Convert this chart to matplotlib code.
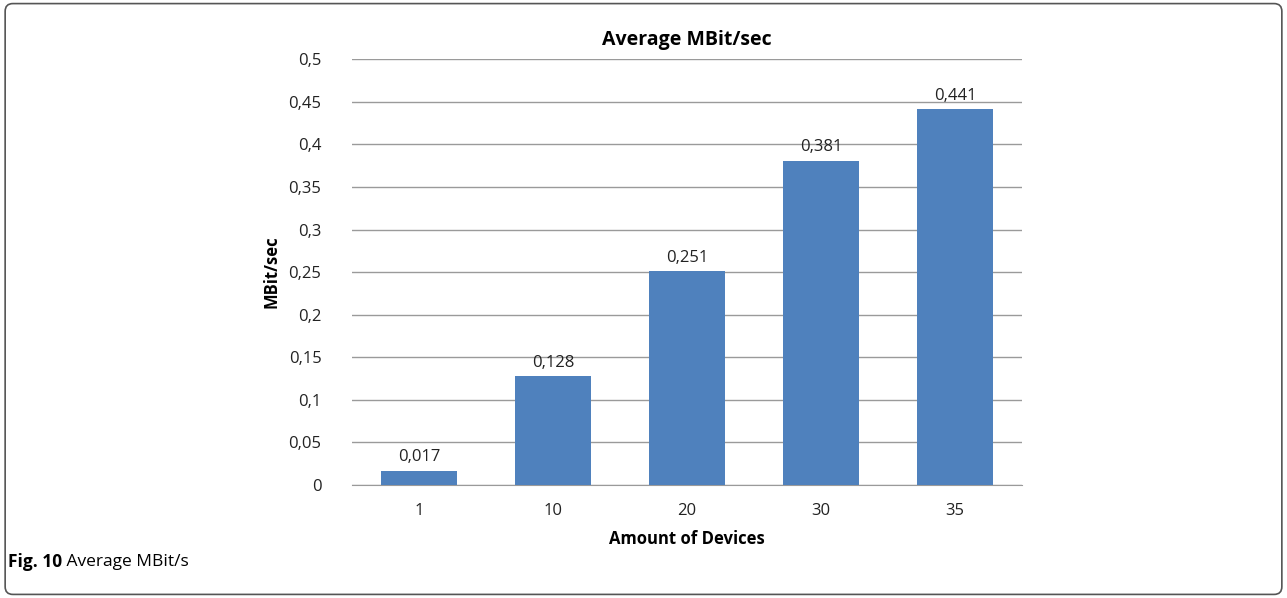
import matplotlib
matplotlib.use('Agg')
import matplotlib.pyplot as plt
from matplotlib.patches import FancyBboxPatch
from matplotlib.ticker import FuncFormatter

devices = ['1', '10', '20', '30', '35']
mbit = [0.017, 0.128, 0.251, 0.381, 0.441]
yticks = [0, 0.05, 0.1, 0.15, 0.2, 0.25, 0.3, 0.35, 0.4, 0.45, 0.5]


def comma(v, pos=None):
    s = f'{v:.3f}'.rstrip('0').rstrip('.')
    return s.replace('.', ',')


def main():
    plt.rcParams['font.family'] = ['Open Sans', 'DejaVu Sans']
    fig = plt.figure(figsize=(12.87, 5.98), dpi=100)

    # outer frame
    frame = FancyBboxPatch((0.004, 0.006), 0.992, 0.988, boxstyle='round,pad=0,rounding_size=0.006',
                           transform=fig.transFigure, fill=False, edgecolor='#555555', linewidth=1.2,
                           mutation_aspect=1287 / 598)
    fig.patches.append(frame)

    ax = fig.add_axes([0.2735, 0.189, 0.5206, 0.712])
    x = list(range(len(devices)))
    bars = ax.bar(x, mbit, width=0.57, color='#4F81BD', zorder=3)
    for b, v in zip(bars, mbit):
        ax.text(b.get_x() + b.get_width() / 2, v + 0.006, comma(v), ha='center', va='bottom',
                fontsize=12, color='#222222')

    ax.set_xlim(-0.5, len(devices) - 0.5)
    ax.set_ylim(0, 0.5)
    ax.set_yticks(yticks)
    ax.yaxis.set_major_formatter(FuncFormatter(comma))
    ax.set_xticks(x)
    ax.set_xticklabels(devices)
    ax.tick_params(length=0, labelsize=12, colors='#222222')
    ax.tick_params(axis='y', pad=22)
    ax.tick_params(axis='x', pad=13)
    ax.grid(axis='y', color='#9a9a9a', linewidth=1, zorder=0)
    for s in ['top', 'right', 'left']:
        ax.spines[s].set_visible(False)
    ax.spines['bottom'].set_color('#9a9a9a')

    ax.set_title('Average MBit/sec', fontsize=14, fontweight='bold', pad=10)
    ax.set_xlabel('Amount of Devices', fontsize=12, fontweight='bold', labelpad=8)
    ax.set_ylabel('MBit/sec', fontsize=12, fontweight='bold', labelpad=6)

    t1 = fig.text(0.006, 0.06, 'Fig. 10', fontsize=12.5, fontweight='bold', va='center')
    fig.canvas.draw()
    ax.annotate(' Average MBit/s', xy=(1, 0.5), xycoords=t1, fontsize=12.5, va='center',
                annotation_clip=False)

    fig.savefig('out.png', dpi=100)


if __name__ == '__main__':
    main()
